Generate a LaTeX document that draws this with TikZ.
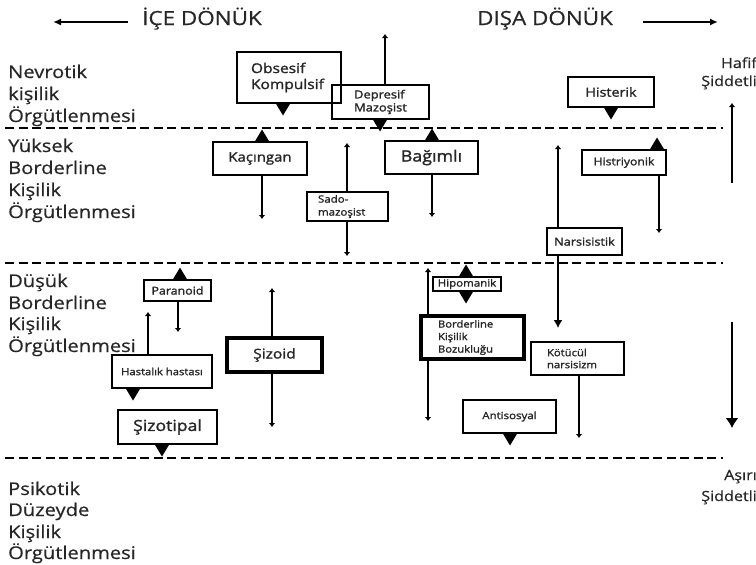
\documentclass[tikz,border=0pt]{standalone}
\usepackage{fontspec}
\setmainfont{Open Sans}[FakeStretch=1.15,FakeBold=0.6]
\newfontfamily\bxfont{Open Sans}[FakeStretch=1.15,FakeBold=1.6]
\usetikzlibrary{arrows.meta}
\definecolor{txt}{HTML}{262626}
\begin{document}
\begin{tikzpicture}[x=1pt,y=-1pt,
  lvl/.style={anchor=base west, inner sep=0pt, text=txt, font=\fontsize{17.5}{20}\selectfont},
  rlab/.style={anchor=base east, inner sep=0pt, text=txt, font=\fontsize{14}{16}\selectfont},
  ttl/.style={anchor=base, inner sep=0pt, text=txt, font=\fontsize{19.5}{22}\selectfont},
  box/.style={draw=black, line width=1.4pt, inner sep=0pt, text=txt, align=center},
  thickbox/.style={box, line width=3.2pt},
  sep/.style={line width=2pt, dash pattern=on 9pt off 4.5pt},
  con/.style={line width=1.4pt, -{Latex[length=4pt,width=6.5pt]}},
  bigcon/.style={line width=1.5pt, -{Latex[length=8pt,width=9pt]}},
  ttlarrow/.style={line width=1.8pt, -{Latex[length=8pt,width=7pt]}},
  tri up/.pic={\fill (-7.5,0) -- (7.5,0) -- (0,-12.5) -- cycle;},
  tri down/.pic={\fill (-7.5,0) -- (7.5,0) -- (0,12.5) -- cycle;}
]
\useasboundingbox (0,0) rectangle (756,565);

% titles
\node[ttl] (ice) at (202,25) {İÇE DÖNÜK};
\node[ttl] (disa) at (545,25) {DIŞA DÖNÜK};
\coordinate (tL1) at (128,22); \coordinate (tL2) at (53,22);
\coordinate (tR1) at (643,22); \coordinate (tR2) at (718,22);
\draw[ttlarrow] (tL1) -- (tL2);
\draw[ttlarrow] (tR1) -- (tR2);

% level labels
\node[lvl] (n1) at (8,78) {Nevrotik};
\node[lvl] (n2) at (8,100) {kişilik};
\node[lvl] (n3) at (8,122) {Örgütlenmesi};
\node[lvl] (y1) at (8,152) {Yüksek};
\node[lvl] (y2) at (8,174) {Borderline};
\node[lvl] (y3) at (8,196) {Kişilik};
\node[lvl] (y4) at (8,218) {Örgütlenmesi};
\node[lvl] (d1) at (8,287) {Düşük};
\node[lvl] (d2) at (8,309) {Borderline};
\node[lvl] (d3) at (8,330) {Kişilik};
\node[lvl] (d4) at (8,352) {Örgütlenmesi};
\node[lvl] (p1) at (8,495) {Psikotik};
\node[lvl] (p2) at (8,516) {Düzeyde};
\node[lvl] (p3) at (8,538) {Kişilik};
\node[lvl] (p4) at (8,559) {Örgütlenmesi};

% right labels
\node[rlab] (hf1) at (757,68) {Hafif};
\node[rlab] (hf2) at (757,86) {Şiddetli};
\node[rlab] (as1) at (757,480) {Aşırı};
\node[rlab] (as2) at (757,501) {Şiddetli};
\coordinate (rA1) at (732,183); \coordinate (rA2) at (732,103);
\coordinate (rB1) at (732,322); \coordinate (rB2) at (732,428);
\draw[con] (rA1) -- (rA2);
\draw[line width=1.7pt, -{Latex[length=10pt,width=13pt]}] (rB1) -- (rB2);

% dashed separators
\coordinate (s1a) at (5,128); \coordinate (s1b) at (723,128);
\coordinate (s2a) at (5,263); \coordinate (s2b) at (723,263);
\coordinate (s3a) at (5,458); \coordinate (s3b) at (723,458);
\draw[sep] (s1a) -- (s1b);
\draw[sep] (s2a) -- (s2b);
\draw[sep] (s3a) -- (s3b);

% boxes
\node[box, align=left, minimum width=104, minimum height=51, text width=76,
  font=\bxfont\fontsize{13.5}{17}\selectfont] (obs) at (289,77.5) {Obsesif\\[-1pt]Kompulsif\\[3pt]};
\node[box, align=left, minimum width=97, minimum height=34,
  font=\bxfont\fontsize{11.2}{13}\selectfont] (dep) at (380.5,102) {Depresif\\Mazoşist};
\node[box, minimum width=94, minimum height=33,
  font=\bxfont\fontsize{13}{15}\selectfont] (kac) at (260,158.5) {Kaçıngan};
\node[box, align=left, minimum width=81, minimum height=29, text width=59,
  font=\bxfont\fontsize{10}{13}\selectfont] (sado) at (347.5,206.5) {Sado-\\mazoşist};
\node[box, minimum width=93, minimum height=33,
  font=\bxfont\fontsize{15.5}{18}\selectfont] (bag) at (431.5,157.5) {Bağımlı};
\node[box, minimum width=86, minimum height=30,
  font=\bxfont\fontsize{12.5}{15}\selectfont] (hister) at (611,92) {Histerik};
\node[box, minimum width=84, minimum height=25,
  font=\bxfont\fontsize{10.6}{13}\selectfont] (hist) at (624,162.5) {Histriyonik};
\node[box, minimum width=75, minimum height=27,
  font=\bxfont\fontsize{11}{13}\selectfont] (nar) at (584.5,241.5) {Narsisistik};
\node[box, minimum width=67, minimum height=21,
  font=\bxfont\fontsize{10.8}{13}\selectfont] (par) at (177.5,290.5) {Paranoid};
\node[box, minimum width=100, minimum height=33,
  font=\bxfont\fontsize{9.8}{12}\selectfont] (hast) at (162,371.5) {Hastalık hastası};
\node[thickbox, minimum width=95, minimum height=34,
  font=\bxfont\fontsize{13.5}{16}\selectfont] (siz) at (274.5,355) {Şizoid};
\node[box, minimum width=99, minimum height=34,
  font=\bxfont\fontsize{15.3}{18}\selectfont] (sizt) at (167.5,427) {Şizotipal};
\node[box, line width=1.8pt, minimum width=68, minimum height=14,
  font=\bxfont\fontsize{10}{12}\selectfont] (hip) at (467,284) {Hipomanik};
\node[thickbox, align=left, minimum width=103, minimum height=43, text width=69,
  font=\bxfont\fontsize{9.8}{12.5}\selectfont] (bks) at (472.5,337.5) {Borderline\\Kişilik\\Bozukluğu};
\node[box, align=left, minimum width=93, minimum height=33, text width=61,
  font=\bxfont\fontsize{9.8}{12}\selectfont] (kot) at (577.5,358.5) {Kötücül\\narsisizm};
\node[box, minimum width=93, minimum height=33,
  font=\bxfont\fontsize{10}{12}\selectfont] (anti) at (509.5,416.5) {Antisosyal};

% triangles
\pic at (283,103) {tri down};
\pic at (380,119) {tri down};
\pic at (262,142) {tri up};
\pic at (432,141) {tri up};
\pic at (611,107) {tri down};
\pic at (657,150) {tri up};
\pic at (180,280) {tri up};
\pic at (133,388) {tri down};
\pic at (162,444) {tri down};
\pic at (466,277) {tri up};
\pic at (466,291) {tri down};
\pic at (510,433) {tri down};

% connectors
\coordinate (depE) at (385,34);
\coordinate (kacE) at (262,219);
\coordinate (sadoN) at (347,143); \coordinate (sadoS) at (347,256);
\coordinate (bagE) at (432,217);
\coordinate (narN) at (558,145); \coordinate (narS) at (558,328);
\coordinate (histE) at (659,233);
\coordinate (parE) at (178,332);
\coordinate (hastE) at (148,312);
\coordinate (sizN) at (272,288); \coordinate (sizS) at (272,427);
\coordinate (bksN) at (428,268); \coordinate (bksS) at (428,421);
\coordinate (kotE) at (579,438);

\draw[con] (dep.north -| depE) -- (depE);
\draw[con] (kac.south -| kacE) -- (kacE);
\draw[con] (sado.north -| sadoN) -- (sadoN);
\draw[con] (sado.south -| sadoS) -- (sadoS);
\draw[con] (bag.south -| bagE) -- (bagE);
\draw[con] (nar.north -| narN) -- (narN);
\draw[bigcon] (nar.south -| narS) -- (narS);
\draw[con] (hist.south -| histE) -- (histE);
\draw[con] (par.south -| parE) -- (parE);
\draw[con] (hast.north -| hastE) -- (hastE);
\draw[con] (siz.north -| sizN) -- (sizN);
\draw[con] (siz.south -| sizS) -- (sizS);
\draw[con] (bks.north -| bksN) -- (bksN);
\draw[con] (bks.south -| bksS) -- (bksS);
\draw[con] (kot.south -| kotE) -- (kotE);
\end{tikzpicture}
\end{document}
